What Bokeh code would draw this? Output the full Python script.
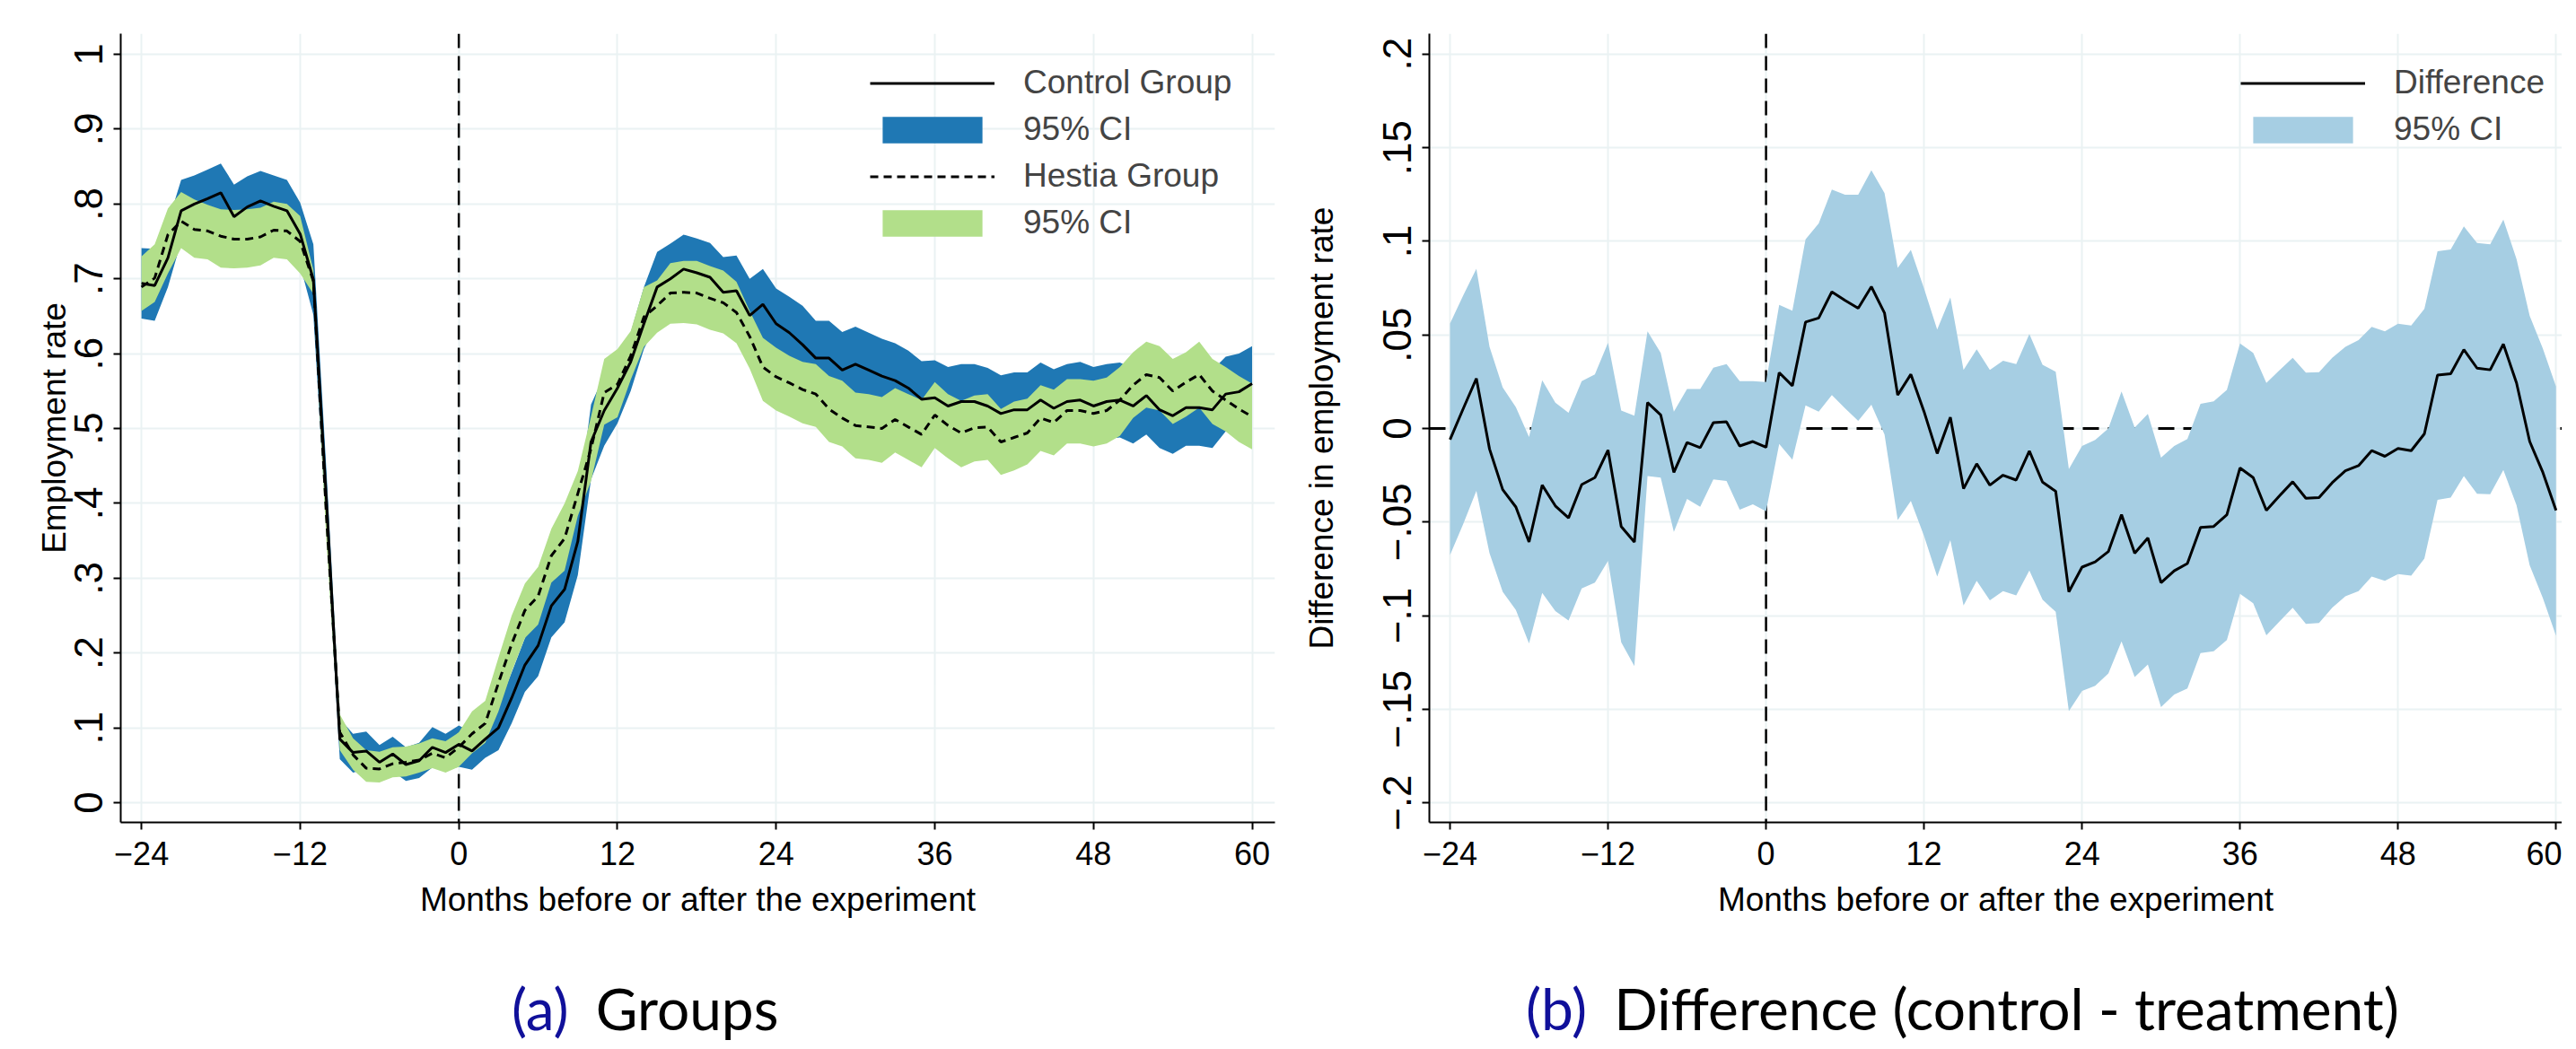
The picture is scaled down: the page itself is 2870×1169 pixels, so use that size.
from bokeh.plotting import figure
from bokeh.models import Range1d, FixedTicker, Span, Legend, LegendItem, Div, CustomJSTickFormatter
from bokeh.layouts import row, column
from bokeh.embed import file_html
from bokeh.resources import INLINE

months = list(range(-24, 61))

control = [0.694, 0.691, 0.728, 0.791, 0.800, 0.807, 0.815, 0.783, 0.796, 0.804, 0.797, 0.791,
           0.760, 0.699, 0.400, 0.085, 0.067, 0.069, 0.054, 0.065, 0.051, 0.056, 0.074, 0.067,
           0.078, 0.069, 0.085, 0.100, 0.140, 0.184, 0.210, 0.263, 0.285, 0.349, 0.482, 0.524,
           0.554, 0.589, 0.640, 0.689, 0.700, 0.713, 0.708, 0.702, 0.682, 0.684, 0.651, 0.666,
           0.640, 0.628, 0.612, 0.594, 0.594, 0.578, 0.586, 0.578, 0.570, 0.564, 0.554, 0.539,
           0.541, 0.530, 0.536, 0.536, 0.530, 0.520, 0.525, 0.525, 0.538, 0.527, 0.536, 0.538,
           0.530, 0.536, 0.538, 0.530, 0.544, 0.525, 0.517, 0.528, 0.528, 0.525, 0.546, 0.549,
           0.560]
control_hi = [0.741, 0.740, 0.775, 0.832, 0.838, 0.846, 0.854, 0.826, 0.837, 0.844, 0.838, 0.832,
              0.802, 0.746, 0.440, 0.112, 0.092, 0.095, 0.077, 0.088, 0.074, 0.080, 0.101, 0.092,
              0.103, 0.094, 0.110, 0.130, 0.174, 0.220, 0.251, 0.305, 0.329, 0.394, 0.532, 0.571,
              0.601, 0.628, 0.689, 0.736, 0.747, 0.759, 0.754, 0.748, 0.729, 0.731, 0.700, 0.713,
              0.687, 0.676, 0.664, 0.644, 0.644, 0.629, 0.636, 0.628, 0.620, 0.614, 0.604, 0.590,
              0.591, 0.582, 0.586, 0.586, 0.581, 0.571, 0.575, 0.575, 0.588, 0.579, 0.586, 0.589,
              0.582, 0.586, 0.588, 0.580, 0.596, 0.576, 0.568, 0.579, 0.579, 0.578, 0.596, 0.600,
              0.610]
control_lo = [0.647, 0.644, 0.689, 0.750, 0.762, 0.768, 0.776, 0.740, 0.755, 0.764, 0.756, 0.750,
              0.718, 0.652, 0.360, 0.058, 0.040, 0.045, 0.033, 0.042, 0.029, 0.033, 0.047, 0.042,
              0.048, 0.044, 0.060, 0.070, 0.106, 0.148, 0.169, 0.221, 0.241, 0.304, 0.432, 0.477,
              0.507, 0.550, 0.606, 0.642, 0.653, 0.667, 0.662, 0.656, 0.635, 0.637, 0.602, 0.619,
              0.593, 0.580, 0.560, 0.544, 0.544, 0.527, 0.536, 0.528, 0.520, 0.514, 0.504, 0.488,
              0.491, 0.478, 0.486, 0.486, 0.479, 0.469, 0.475, 0.475, 0.488, 0.475, 0.486, 0.487,
              0.478, 0.486, 0.488, 0.480, 0.492, 0.474, 0.466, 0.477, 0.477, 0.474, 0.496, 0.498,
              0.510]

hestia = [0.689, 0.701, 0.759, 0.777, 0.766, 0.764, 0.757, 0.753, 0.753, 0.756, 0.765, 0.764,
          0.750, 0.697, 0.380, 0.094, 0.064, 0.046, 0.045, 0.052, 0.054, 0.057, 0.066, 0.060,
          0.074, 0.092, 0.106, 0.160, 0.212, 0.257, 0.276, 0.330, 0.353, 0.413, 0.473, 0.548,
          0.559, 0.597, 0.649, 0.664, 0.681, 0.682, 0.681, 0.674, 0.668, 0.655, 0.623, 0.582,
          0.569, 0.561, 0.552, 0.546, 0.526, 0.514, 0.504, 0.502, 0.500, 0.512, 0.502, 0.492,
          0.518, 0.504, 0.494, 0.501, 0.502, 0.482, 0.488, 0.494, 0.514, 0.508, 0.524, 0.524,
          0.520, 0.524, 0.538, 0.558, 0.572, 0.568, 0.550, 0.562, 0.572, 0.550, 0.538, 0.526,
          0.516]
hestia_hi = [0.730, 0.746, 0.794, 0.816, 0.806, 0.799, 0.793, 0.792, 0.793, 0.795, 0.803, 0.800,
             0.784, 0.712, 0.420, 0.118, 0.086, 0.070, 0.068, 0.074, 0.075, 0.079, 0.086, 0.082,
             0.094, 0.122, 0.136, 0.194, 0.250, 0.293, 0.315, 0.366, 0.400, 0.443, 0.516, 0.593,
             0.606, 0.630, 0.689, 0.698, 0.721, 0.724, 0.724, 0.717, 0.711, 0.696, 0.657, 0.621,
             0.608, 0.597, 0.589, 0.586, 0.570, 0.564, 0.548, 0.546, 0.542, 0.554, 0.546, 0.538,
             0.562, 0.546, 0.537, 0.544, 0.546, 0.526, 0.536, 0.540, 0.558, 0.552, 0.566, 0.566,
             0.564, 0.568, 0.582, 0.602, 0.616, 0.610, 0.593, 0.602, 0.616, 0.593, 0.582, 0.570,
             0.560]
hestia_lo = [0.657, 0.669, 0.707, 0.741, 0.728, 0.726, 0.715, 0.714, 0.715, 0.718, 0.728, 0.726,
             0.707, 0.680, 0.345, 0.070, 0.044, 0.028, 0.027, 0.034, 0.035, 0.040, 0.046, 0.040,
             0.048, 0.066, 0.080, 0.122, 0.175, 0.220, 0.238, 0.294, 0.310, 0.383, 0.430, 0.505,
             0.515, 0.565, 0.609, 0.628, 0.640, 0.641, 0.639, 0.632, 0.627, 0.614, 0.580, 0.537,
             0.524, 0.516, 0.507, 0.502, 0.482, 0.476, 0.460, 0.458, 0.454, 0.468, 0.458, 0.448,
             0.474, 0.460, 0.448, 0.456, 0.458, 0.438, 0.444, 0.452, 0.470, 0.464, 0.480, 0.480,
             0.476, 0.480, 0.490, 0.514, 0.528, 0.524, 0.506, 0.516, 0.528, 0.506, 0.496, 0.482,
             0.472]

diff = [-0.0060, 0.0105, 0.0267, -0.0110, -0.0327, -0.0420, -0.0607, -0.0303, -0.0414, -0.0478,
        -0.0300, -0.0263, -0.0116, -0.0524, -0.0607, 0.0138, 0.0072, -0.0235, -0.0075, -0.0103,
        0.0031, 0.0035, -0.0094, -0.0070, -0.0101, 0.0298, 0.0228, 0.0568, 0.0590, 0.0730,
        0.0684, 0.0642, 0.0757, 0.0616, 0.0178, 0.0289, 0.0090, -0.0134, 0.0059, -0.0322,
        -0.0189, -0.0303, -0.0250, -0.0276, -0.0121, -0.0287, -0.0336, -0.0873, -0.0741, -0.0713,
        -0.0658, -0.0461, -0.0667, -0.0585, -0.0824, -0.0761, -0.0722, -0.0529, -0.0524, -0.0461,
        -0.0211, -0.0263, -0.0438, -0.0360, -0.0285, -0.0373, -0.0370, -0.0290, -0.0226, -0.0199,
        -0.0119, -0.0149, -0.0107, -0.0119, -0.0029, 0.0285, 0.0292, 0.0421, 0.0322, 0.0313,
        0.0450, 0.0243, -0.0070, -0.0235, -0.0438]
diff_hi = [0.0560, 0.0710, 0.0853, 0.0436, 0.0219, 0.0114, -0.0046, 0.0257, 0.0138, 0.0083,
           0.0252, 0.0289, 0.0458, 0.0096, 0.0068, 0.0518, 0.0403, 0.0090, 0.0211, 0.0211,
           0.0325, 0.0344, 0.0252, 0.0252, 0.0248, 0.0660, 0.0629, 0.1010, 0.1095, 0.1276,
           0.1248, 0.1248, 0.1379, 0.1257, 0.0858, 0.0954, 0.0748, 0.0528, 0.0699, 0.0313,
           0.0423, 0.0313, 0.0362, 0.0344, 0.0504, 0.0340, 0.0303, -0.0217, -0.0094, -0.0061,
           0.0000, 0.0197, 0.0004, 0.0077, -0.0156, -0.0094, -0.0057, 0.0132, 0.0145, 0.0206,
           0.0454, 0.0403, 0.0243, 0.0311, 0.0377, 0.0298, 0.0301, 0.0377, 0.0436, 0.0472,
           0.0542, 0.0518, 0.0559, 0.0550, 0.0638, 0.0947, 0.0956, 0.1079, 0.0991, 0.0983,
           0.1116, 0.0904, 0.0601, 0.0426, 0.0224]
diff_lo = [-0.0676, -0.0511, -0.0333, -0.0667, -0.0873, -0.0970, -0.1149, -0.0879, -0.0976, -0.1026,
           -0.0855, -0.0824, -0.0708, -0.1142, -0.1270, -0.0254, -0.0263, -0.0553, -0.0377, -0.0419,
           -0.0272, -0.0281, -0.0434, -0.0406, -0.0443, -0.0083, -0.0167, 0.0123, 0.0090, 0.0178,
           0.0108, 0.0040, 0.0127, -0.0033, -0.0489, -0.0388, -0.0575, -0.0792, -0.0597, -0.0946,
           -0.0814, -0.0919, -0.0869, -0.0892, -0.0759, -0.0915, -0.0980, -0.1511, -0.1403, -0.1375,
           -0.1309, -0.1138, -0.1328, -0.1261, -0.1489, -0.1422, -0.1390, -0.1200, -0.1191, -0.1131,
           -0.0884, -0.0934, -0.1105, -0.1031, -0.0958, -0.1044, -0.1039, -0.0958, -0.0897, -0.0869,
           -0.0792, -0.0814, -0.0778, -0.0787, -0.0695, -0.0382, -0.0369, -0.0254, -0.0349, -0.0351,
           -0.0222, -0.0410, -0.0732, -0.0906, -0.1108]

x_ticks = [-24, -12, 0, 12, 24, 36, 48, 60]
x_tick_labels = ["\u221224", "\u221212", "0", "12", "24", "36", "48", "60"]
ya_ticks = [0, 0.1, 0.2, 0.3, 0.4, 0.5, 0.6, 0.7, 0.8, 0.9, 1]
ya_tick_labels = ["0", ".1", ".2", ".3", ".4", ".5", ".6", ".7", ".8", ".9", "1"]
yb_ticks = [-0.2, -0.15, -0.1, -0.05, 0, 0.05, 0.1, 0.15, 0.2]
yb_tick_labels = ["\u2212.2", "\u2212.15", "\u2212.1", "\u2212.05", "0", ".05", ".1", ".15", ".2"]

FONT = "Liberation Sans"
GRID = "#eaf2f3"
FS = "37px"
FS_X = "36px"
FS_Y = "44px"

LOOKUP = """
let best = 0;
for (let i = 0; i < tv.length; i++) {
  if (Math.abs(tv[i] - tick) < Math.abs(tv[best] - tick)) best = i;
}
return tl[best];
"""


def fmt(tick_values, tick_labels):
    return CustomJSTickFormatter(args=dict(tv=tick_values, tl=tick_labels), code=LOOKUP)


def style(p, yticks, ylabels, ylabel, ytitle_standoff):
    p.outline_line_color = None
    p.xaxis.ticker = FixedTicker(ticks=x_ticks)
    p.xaxis.formatter = fmt(x_ticks, x_tick_labels)
    p.yaxis.ticker = FixedTicker(ticks=yticks)
    p.yaxis.formatter = fmt(yticks, ylabels)
    p.yaxis.major_label_orientation = "vertical"
    p.xaxis.axis_label = "Months before or after the experiment"
    p.yaxis.axis_label = ylabel
    for ax in (p.xaxis[0], p.yaxis[0]):
        ax.axis_line_width = 2
        ax.axis_line_color = "black"
        ax.major_tick_line_width = 2
        ax.major_tick_line_color = "black"
        ax.major_tick_out = 8
        ax.major_tick_in = 0
        ax.minor_tick_line_color = None
        ax.major_label_text_font = FONT
        ax.major_label_text_color = "black"
        ax.axis_label_text_font = FONT
        ax.axis_label_text_font_size = FS
        ax.axis_label_text_font_style = "normal"
        ax.axis_label_text_color = "black"
    p.xaxis.major_label_text_font_size = FS_X
    p.yaxis.major_label_text_font_size = FS_Y
    p.xaxis.major_label_standoff = 13
    p.xaxis.axis_label_standoff = 15
    p.yaxis.major_label_standoff = 12
    p.yaxis.axis_label_standoff = ytitle_standoff
    for g in (p.xgrid[0], p.ygrid[0]):
        g.grid_line_color = GRID
        g.grid_line_width = 2


def legend(p, items, vx, vy):
    lg = Legend(items=items, location=(vx, vy), orientation="vertical",
                label_text_font=FONT, label_text_font_size=FS,
                glyph_width=139, glyph_height=37, label_height=37, label_standoff=32,
                spacing=10, padding=0, margin=0,
                border_line_color=None, background_fill_alpha=0)
    p.add_layout(lg)


# ---------------- panel (a)
pa = figure(width=1432, height=1050, x_range=Range1d(-25.57, 61.73), y_range=Range1d(-0.0264, 1.0276),
            output_backend="svg", toolbar_location=None,
            min_border_left=134, min_border_right=12, min_border_top=37, min_border_bottom=134)
style(pa, ya_ticks, ya_tick_labels, "Employment rate", 0)
pa.add_layout(Span(location=0, dimension="height", line_color="black", line_width=2.5,
                   line_dash="16 9", level="underlay"))
ra1 = pa.varea(x=months, y1=control_lo, y2=control_hi, fill_color="#1f78b4")
ra2 = pa.varea(x=months, y1=hestia_lo, y2=hestia_hi, fill_color="#b2df8a")
rl1 = pa.line(months, control, line_color="black", line_width=3)
rl2 = pa.line(months, hestia, line_color="black", line_width=3, line_dash="9 6")
legend(pa, [LegendItem(label="Control Group", renderers=[rl1]),
            LegendItem(label="95% CI", renderers=[ra1]),
            LegendItem(label="Hestia Group", renderers=[rl2]),
            LegendItem(label="95% CI", renderers=[ra2])], 835, 647)

# ---------------- panel (b)
pb = figure(width=1422, height=1050, x_range=Range1d(-25.57, 60.46), y_range=Range1d(-0.2105, 0.2109),
            output_backend="svg", toolbar_location=None,
            min_border_left=160, min_border_right=0, min_border_top=37, min_border_bottom=134)
style(pb, yb_ticks, yb_tick_labels, "Difference in employment rate", 46)
pb.add_layout(Span(location=0, dimension="width", line_color="black", line_width=3,
                   line_dash="18 10", level="underlay"))
pb.add_layout(Span(location=0, dimension="height", line_color="black", line_width=2.5,
                   line_dash="16 9", level="underlay"))
rb1 = pb.varea(x=months, y1=diff_lo, y2=diff_hi, fill_color="#a6cee3")
rb2 = pb.line(months, diff, line_color="black", line_width=3)
legend(pb, [LegendItem(label="Difference", renderers=[rb2]),
            LegendItem(label="95% CI", renderers=[rb1])], 904, 751)

cap_style = ("font-family:'Lato';font-size:64px;line-height:1.1;"
             "white-space:nowrap;color:#000;padding-top:34px;")
tag_style = "color:#10109a;margin-right:30px;"
cap_a = Div(text='<div style="' + cap_style + 'padding-left:565px;">'
                 '<span style="' + tag_style + '">(a)</span>Groups</div>', width=1432, height=103)
cap_b = Div(text='<div style="' + cap_style + 'padding-left:253px;">'
                 '<span style="' + tag_style + '">(b)</span>Difference (control - treatment)</div>',
            width=1422, height=103)

layout = column(row(pa, pb), row(cap_a, cap_b))
open("out.html", "w").write(file_html(layout, INLINE))
